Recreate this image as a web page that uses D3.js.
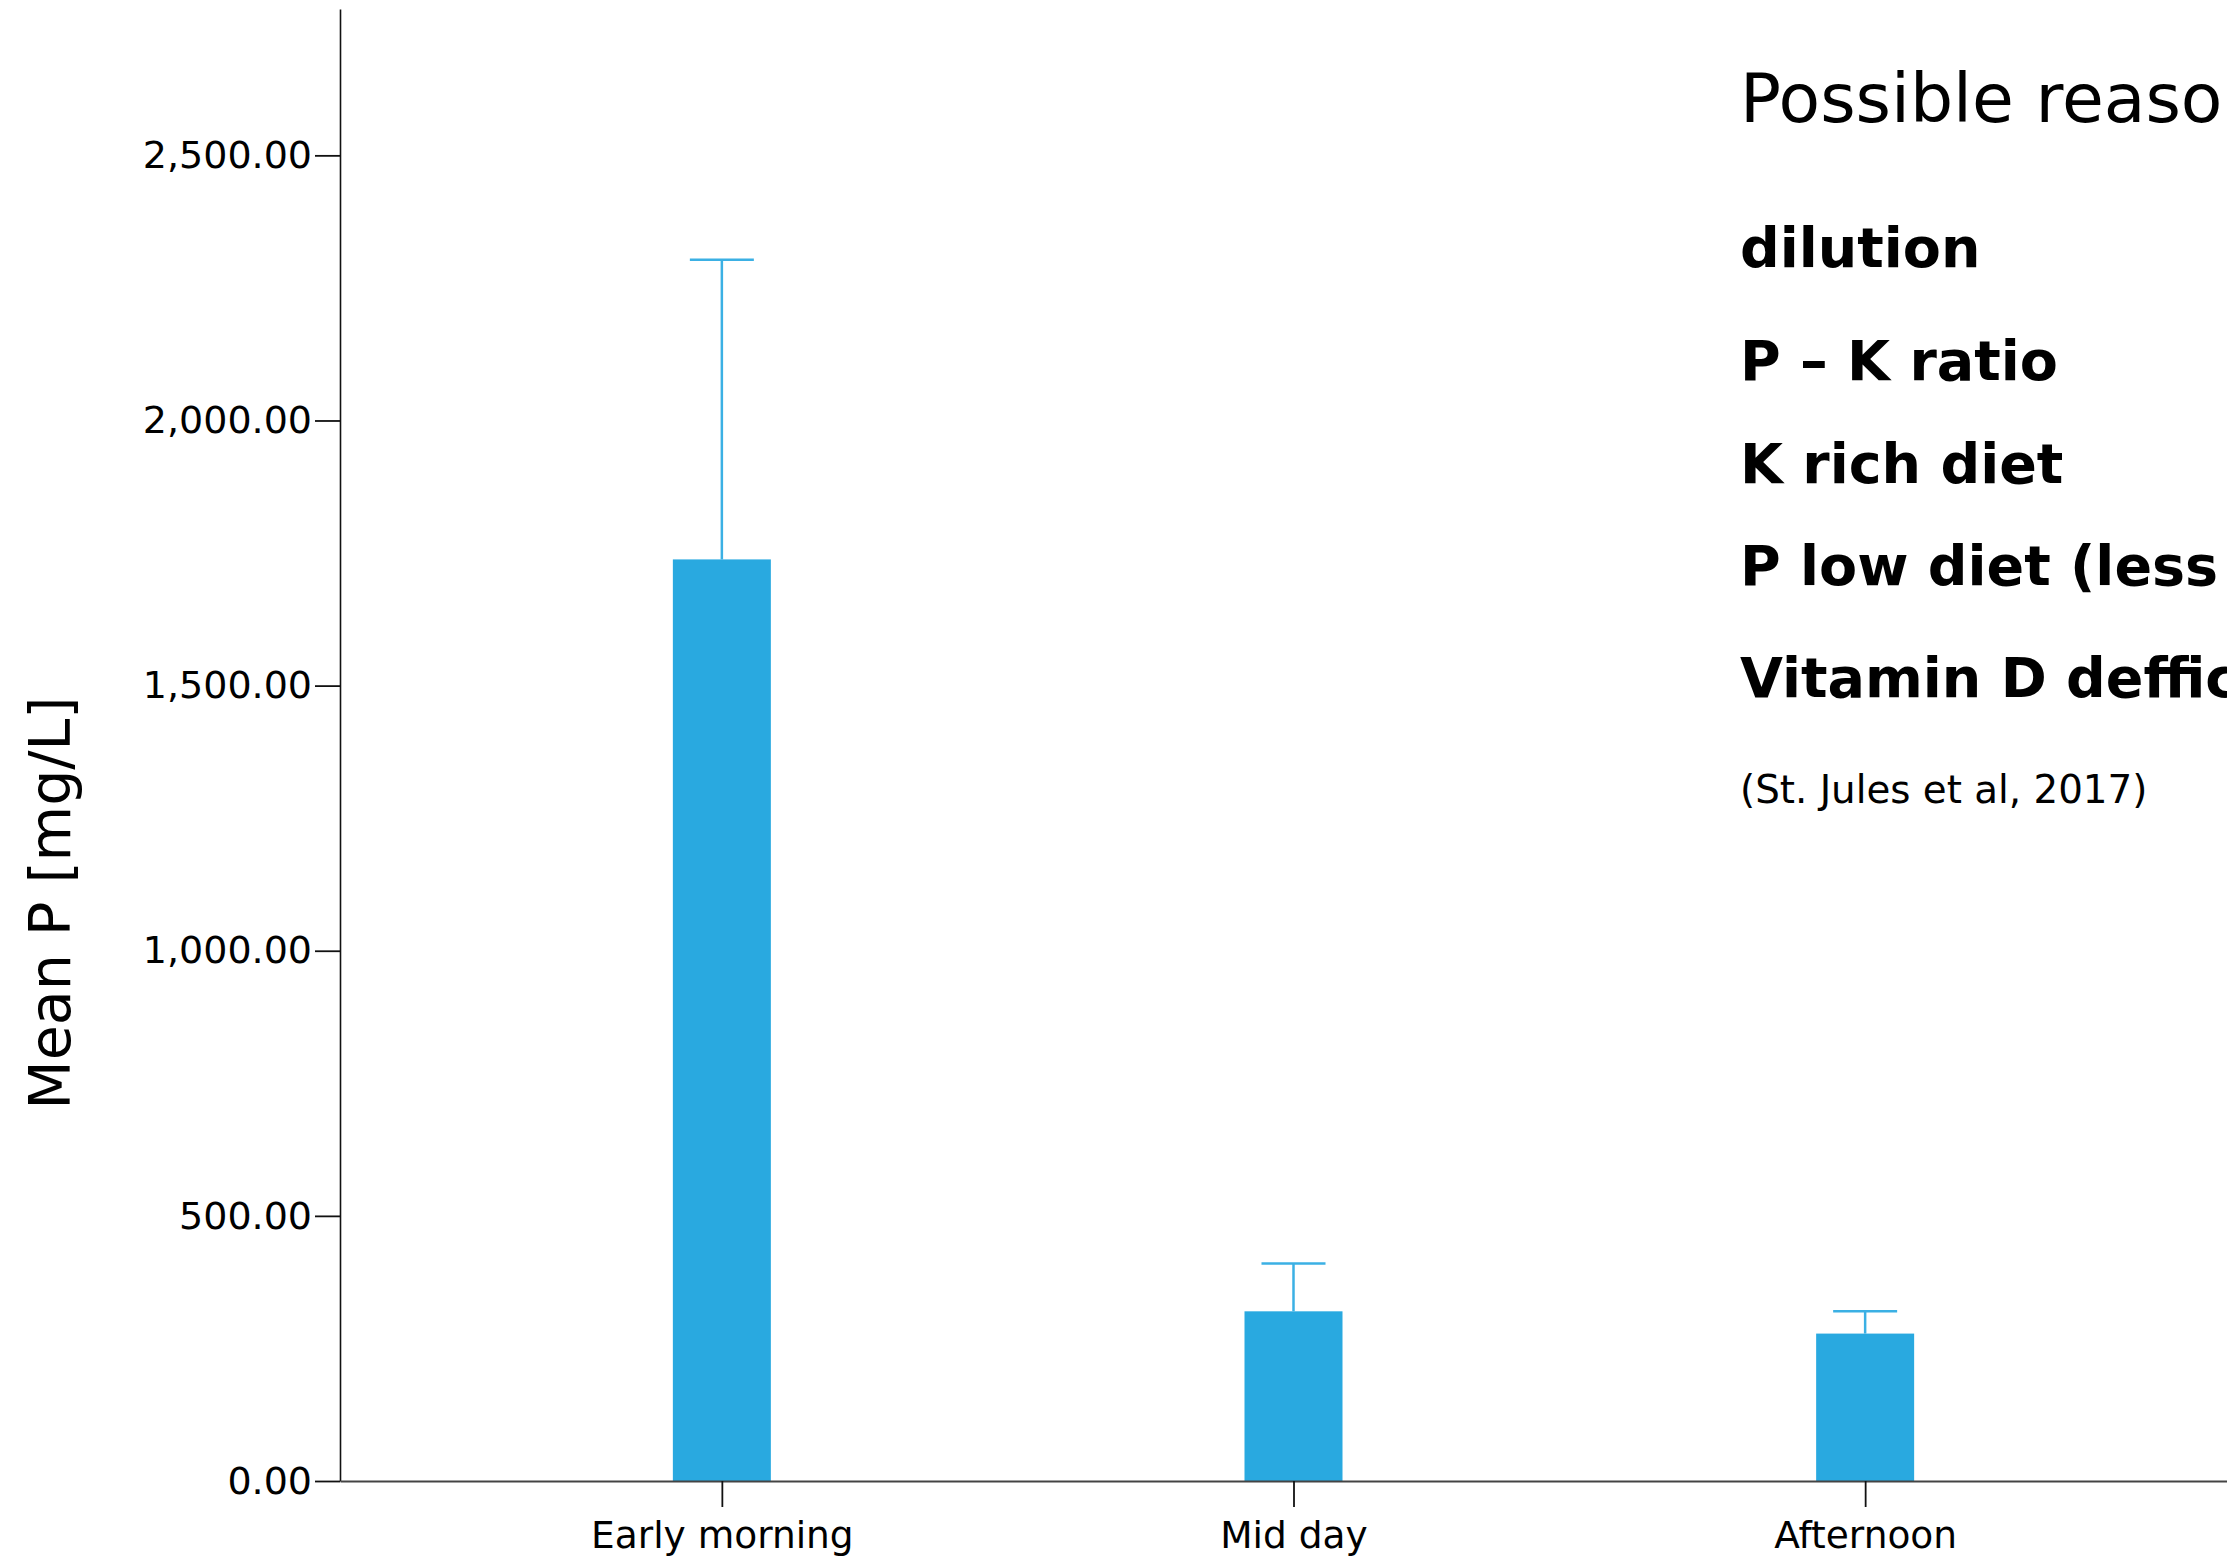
<!DOCTYPE html>
<html>
<head>
<meta charset="utf-8">
<script src="https://cdn.jsdelivr.net/npm/d3@7"></script>
<style>
  html, body { margin: 0; padding: 0; background: #fff; }
  svg { display: block; overflow: hidden; }
  text { font-family: "DejaVu Sans", Verdana, sans-serif; fill: #000; }
</style>
</head>
<body>
<svg id="chart" width="2227" height="1560"></svg>
<script>
// Mean urinary P by time of sampling, with upper error bars
const categories = ["Early morning", "Mid day", "Afternoon"];
const meanP = [1738, 320, 278];
const errorP = [565, 90, 42];
const yTicks = [0, 500, 1000, 1500, 2000, 2500];

// Side notes
const noteTitle = "Possible reasons";
const reasons = ["dilution", "P \u2013 K ratio", "K rich diet", "P low diet (less", "Vitamin D defficiency"];
const citation = "(St. Jules et al, 2017)";

const svg = d3.select("#chart");
const barColor = "#29a9e0";
const errColor = "#3bb0e4";

const x = d3.scalePoint()
  .domain(categories)
  .range([340, 2247])
  .padding(0.668);

const y = d3.scaleLinear()
  .domain([0, 2776])
  .range([1481, 9]);

const barWidth = 98;
const capWidth = 64;

// bars
svg.append("g")
  .selectAll("rect")
  .data(categories)
  .join("rect")
  .attr("x", d => x(d) - barWidth / 2)
  .attr("y", (d, i) => y(meanP[i]))
  .attr("width", barWidth)
  .attr("height", (d, i) => y(0) - y(meanP[i]))
  .attr("fill", barColor);

// error bars (upper only)
const err = svg.append("g")
  .attr("stroke", errColor)
  .attr("stroke-width", 2.5)
  .attr("fill", "none");

err.selectAll("line.stem")
  .data(categories)
  .join("line")
  .attr("class", "stem")
  .attr("x1", d => x(d))
  .attr("x2", d => x(d))
  .attr("y1", (d, i) => y(meanP[i]))
  .attr("y2", (d, i) => y(meanP[i] + errorP[i]));

err.selectAll("line.cap")
  .data(categories)
  .join("line")
  .attr("class", "cap")
  .attr("x1", d => x(d) - capWidth / 2)
  .attr("x2", d => x(d) + capWidth / 2)
  .attr("y1", (d, i) => y(meanP[i] + errorP[i]))
  .attr("y2", (d, i) => y(meanP[i] + errorP[i]));

// y axis
const yAxis = svg.append("g")
  .attr("transform", "translate(340,0)")
  .call(d3.axisLeft(y)
    .tickValues(yTicks)
    .tickFormat(d3.format(",.2f"))
    .tickSize(25)
    .tickSizeOuter(0)
    .tickPadding(3));
yAxis.select(".domain").attr("stroke", "#111").attr("stroke-width", 1.6);
yAxis.selectAll(".tick line").attr("stroke", "#111").attr("stroke-width", 1.8);
yAxis.selectAll(".tick text")
  .attr("font-size", 38)
  .attr("font-family", "DejaVu Sans, Verdana, sans-serif")
  .attr("fill", "#000");

// x axis
const xAxis = svg.append("g")
  .attr("transform", `translate(0,${y(0)})`)
  .call(d3.axisBottom(x)
    .tickSize(26)
    .tickSizeOuter(0)
    .tickPadding(14));
xAxis.select(".domain").attr("stroke", "#444").attr("stroke-width", 2);
xAxis.selectAll(".tick line").attr("stroke", "#111").attr("stroke-width", 1.8);
xAxis.selectAll(".tick text")
  .attr("font-size", 37.5)
  .attr("font-family", "DejaVu Sans, Verdana, sans-serif")
  .attr("fill", "#000");

// y axis title
svg.append("text")
  .attr("transform", "translate(70,903) rotate(-90)")
  .attr("text-anchor", "middle")
  .attr("font-size", 57)
  .text("Mean P [mg/L]");

// notes on the right
const notes = svg.append("g").attr("transform", "translate(1740,0)");
notes.append("text")
  .attr("x", 0)
  .attr("y", 122)
  .attr("font-size", 68)
  .text(noteTitle);

const reasonBaselines = [267, 380, 483, 585, 697];
notes.selectAll("text.reason")
  .data(reasons)
  .join("text")
  .attr("class", "reason")
  .attr("x", 0)
  .attr("y", (d, i) => reasonBaselines[i])
  .attr("font-size", 55.5)
  .attr("font-weight", "bold")
  .text(d => d);

notes.append("text")
  .attr("x", 0)
  .attr("y", 803)
  .attr("font-size", 38.8)
  .text(citation);
</script>
</body>
</html>
